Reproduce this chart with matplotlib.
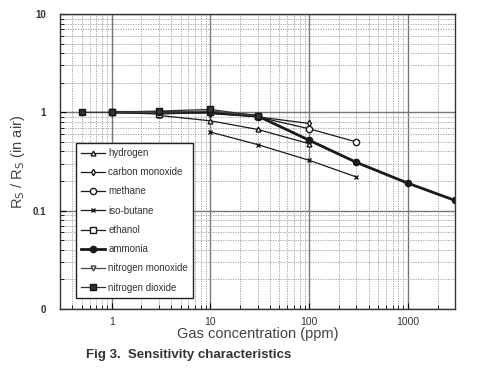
import matplotlib
matplotlib.use("Agg")
import matplotlib.pyplot as plt

plt.rcParams['font.family'] = ['Liberation Sans', 'DejaVu Sans']

# ---------------------------------------------------------------------------
#  Data (Rs / Rs(in air) vs ppm)
# ---------------------------------------------------------------------------

hydrogen_x = [3, 10, 30, 100]
hydrogen_y = [0.93, 0.82, 0.67, 0.48]

co_x = [10, 30, 100]
co_y = [0.97, 0.90, 0.77]

methane_x = [30, 100, 300]
methane_y = [0.90, 0.68, 0.50]

isobutane_x = [10, 30, 100, 300]
isobutane_y = [0.63, 0.47, 0.325, 0.22]

ethanol_x = [1, 3, 10, 30]
ethanol_y = [1.0, 0.96, 1.0, 0.92]

ammonia_x = [1, 3, 10, 30, 100, 300, 1000, 3000]
ammonia_y = [1.0, 1.0, 1.0, 0.92, 0.52, 0.31, 0.19, 0.127]

no_x = [1, 3, 10, 30]
no_y = [1.0, 1.0, 1.03, 0.92]

no2_x = [0.5, 1, 3, 10, 30]
no2_y = [1.0, 1.0, 1.03, 1.07, 0.92]

y_ticks = [0.01, 0.1, 1, 10]
y_tick_labels = ['0', '0.1', '1', '10']
x_ticks = [1, 10, 100, 1000]
x_tick_labels = ['1', '10', '100', '1000']

# ---------------------------------------------------------------------------
#  Plot
# ---------------------------------------------------------------------------

fig = plt.figure(figsize=(4.82, 3.90), dpi=100)
ax = fig.add_axes([0.1245, 0.208, 0.8195, 0.756])
ax.set_xscale('log')
ax.set_yscale('log')
ax.set_xlim(0.3, 3000)
ax.set_ylim(0.01, 10)

lc = '#1a1a1a'
thin = dict(color=lc, lw=0.9, mec=lc)
ax.plot(hydrogen_x, hydrogen_y, marker='^', ms=3.5, mfc='white', label='hydrogen', **thin)
ax.plot(co_x, co_y, marker='d', ms=3.2, mfc='white', label='carbon monoxide', **thin)
ax.plot(methane_x, methane_y, marker='o', ms=4.5, mfc='white', label='methane', **thin)
ax.plot(isobutane_x, isobutane_y, marker='x', ms=3.5, label='iso-butane', **thin)
ax.plot(ethanol_x, ethanol_y, marker='s', ms=4, mfc='white', label='ethanol', **thin)
ax.plot(ammonia_x, ammonia_y, marker='o', ms=4.5, mfc=lc, color=lc, mec=lc, lw=2.0,
        label='ammonia')
ax.plot(no_x, no_y, marker='v', ms=3.5, mfc='white', color='#444444', mec='#444444',
        lw=0.9, label='nitrogen monoxide')
ax.plot(no2_x, no2_y, marker='s', ms=4.5, mfc='#333333', color='#333333', mec='#111111',
        lw=0.9, label='nitrogen dioxide')

# grid
ax.grid(which='major', color='#777777', lw=1.0, ls='-')
ax.grid(which='minor', color='#999999', lw=0.6, ls=(0, (1.5, 1.5)))
ax.set_axisbelow(True)

ax.set_yticks(y_ticks)
ax.set_yticklabels(y_tick_labels, fontsize=7, fontweight='bold', color='#333333')
ax.set_xticks(x_ticks)
ax.set_xticklabels(x_tick_labels, fontsize=7.5, color='#333333')
ax.tick_params(which='both', direction='in', top=False, right=False)
ax.tick_params(which='major', length=4, width=0.8)
ax.tick_params(which='minor', length=3, width=0.6)
ax.tick_params(axis='y', pad=10)
ax.tick_params(axis='x', pad=6)

for sp in ax.spines.values():
    sp.set_color('#333333')
    sp.set_linewidth(1.0)

ax.set_xlabel('Gas concentration (ppm)', fontsize=10.5, color='#444444', labelpad=0)
ax.set_ylabel(r'R$_\mathrm{S}$ / R$_\mathrm{S}$ (in air)', fontsize=10.5, color='#444444',
              labelpad=4)

leg = ax.legend(loc='lower left', bbox_to_anchor=(0.04, 0.037), fontsize=7,
                frameon=True, fancybox=False, framealpha=1, edgecolor='#222222',
                handlelength=2.5, handletextpad=0.3, labelspacing=0.95,
                borderpad=0.55, borderaxespad=0)
leg.get_frame().set_linewidth(1.0)
for t in leg.get_texts():
    t.set_color('#333333')

fig.text(0.178, 0.082, 'Fig 3.  Sensitivity characteristics', fontsize=9.5,
         fontweight='bold', color='#333333')

fig.savefig('out.png', dpi=100)
